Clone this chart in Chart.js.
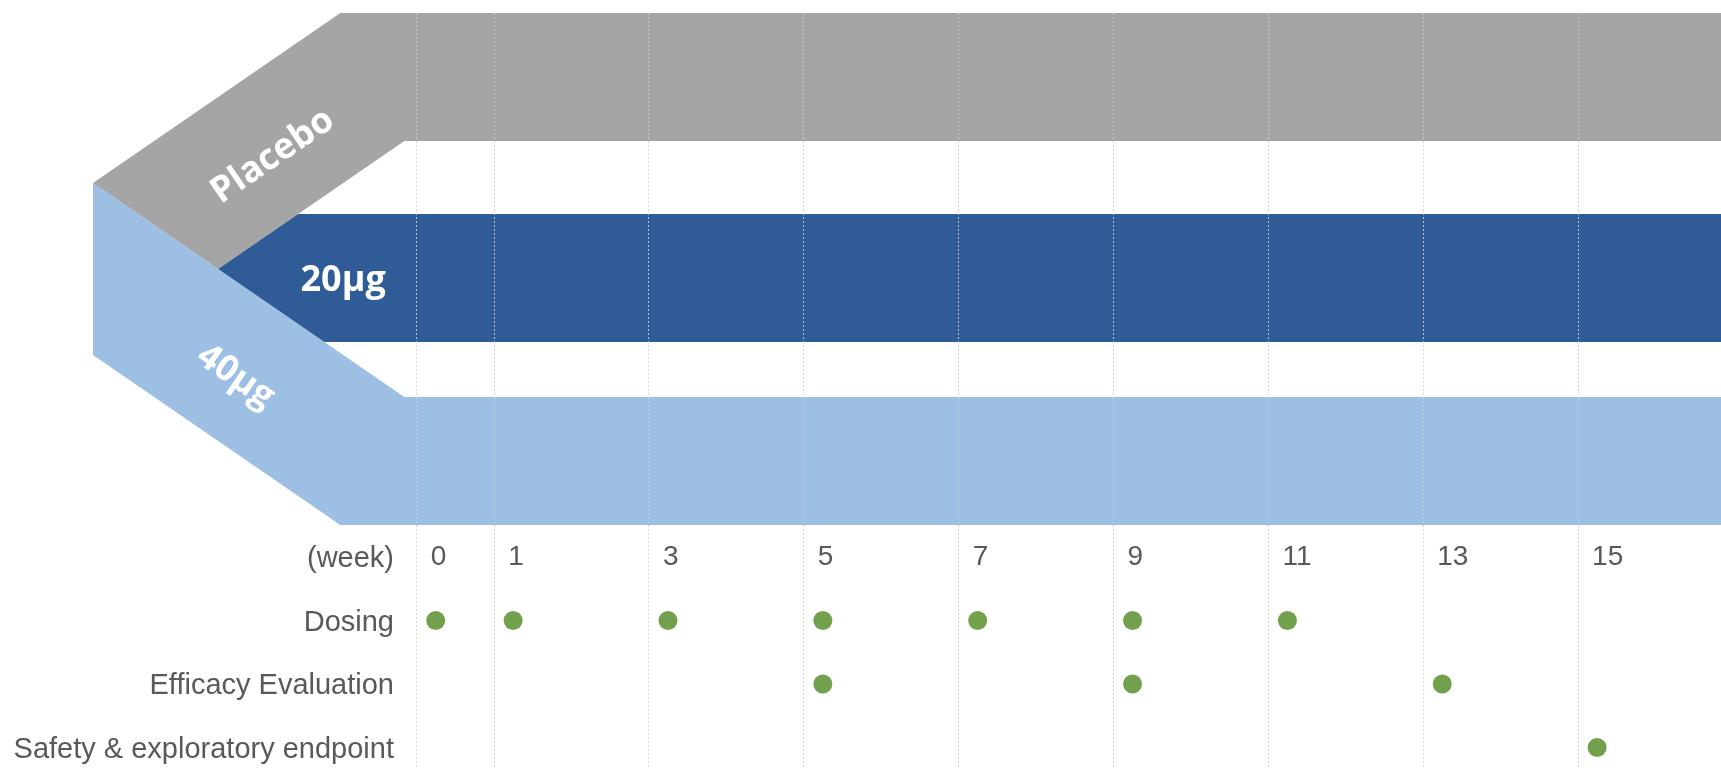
<!DOCTYPE html>
<html>
<head>
<meta charset="utf-8">
<script src="https://cdn.jsdelivr.net/npm/chart.js@4.4.1/dist/chart.umd.min.js"></script>
<style>
  html, body { margin: 0; padding: 0; background: #ffffff; overflow: hidden; width: 1721px; height: 773px; }
  #wrap { position: absolute; left: 0; top: -37px; width: 1721px; height: 810px; }
</style>
</head>
<body>
<div id="wrap"><canvas id="chart"></canvas></div>
<script>
// ---------- data ----------
const armLabels = ['Placebo', '20µg', '40µg'];
const armColors = ['#a5a5a5', '#2f5c97', '#9dbfe3'];
const armStartWeek = [0, 0, 0];
const armEndWeek = [16.6, 16.6, 16.6];

const weekTicks = [0, 1, 3, 5, 7, 9, 11, 13, 15];
const rowLabels = ['(week)', 'Dosing', 'Efficacy Evaluation', 'Safety & exploratory endpoint'];

const dosingWeeks = [0, 1, 3, 5, 7, 9, 11];
const efficacyWeeks = [5, 9, 13];
const safetyWeeks = [15];

// ---------- style ----------
const dotColor = '#72a04d';
const textColor = '#595959';
const labelFont = '"Liberation Sans", Arial, sans-serif';
const AXIS_W = 397;                       // width of the left label column
const armSlots = [228, 174, 192];         // vertical room given to each arm row
const rowsSlot = 190.5;                   // vertical room of the schedule rows
const BAND = 128;                         // thickness of an arm band

// chevron geometry (decoration)
const VX = 93;        // x of the left vertical edge
const K = 1.455;      // dx/dy of the slanted edges
const HALF = 86;      // half-height of the left vertical edge
const GRID_SHIFT = 19.5;

function bandBox(chart, i) {
  const el = chart.getDatasetMeta(i).data[0];
  const p = el.getProps(['x', 'y', 'base', 'height'], true);
  return { top: p.y - p.height / 2, bot: p.y + p.height / 2, left: Math.min(p.x, p.base), cy: p.y };
}

function geometry(chart) {
  const g = bandBox(chart, 0), d = bandBox(chart, 1), l = bandBox(chart, 2);
  const mid = (g.top + l.bot) / 2;
  const vy1 = mid - HALF, vy2 = mid + HALF;
  const px = VX + K * HALF;
  const L1 = y => VX + K * (vy1 - y);
  const L2 = y => px + K * (mid - y);
  const L3 = y => VX + K * (y - vy1);
  const L4 = y => VX + K * (y - vy2);
  return { g, d, l, mid, vy1, vy2, px, L1, L2, L3, L4 };
}

function poly(ctx, pts, color) {
  ctx.beginPath();
  ctx.moveTo(pts[0][0], pts[0][1]);
  for (let i = 1; i < pts.length; i++) ctx.lineTo(pts[i][0], pts[i][1]);
  ctx.closePath();
  ctx.fillStyle = color;
  ctx.fill();
}

const armShapes = {
  id: 'armShapes',
  beforeDatasetsDraw(chart) {
    const ctx = chart.ctx;
    const { g, d, l, mid, vy1, vy2, px, L1, L2, L3, L4 } = geometry(chart);
    ctx.save();
    poly(ctx, [[VX, vy1], [px, mid], [L3(l.top), l.top], [l.left + 1, l.top], [l.left + 1, l.bot], [L4(l.bot), l.bot], [VX, vy2]], armColors[2]);
    poly(ctx, [[L1(g.top), g.top], [g.left + 1, g.top], [g.left + 1, g.bot], [L2(g.bot), g.bot], [px, mid], [VX, vy1]], armColors[0]);
    poly(ctx, [[L2(d.top), d.top], [d.left + 1, d.top], [d.left + 1, d.bot], [L3(d.bot), d.bot], [px, mid]], armColors[1]);
    ctx.restore();
  },
  afterDatasetsDraw(chart) {
    const ctx = chart.ctx;
    const { g, d, mid, px, L1, L2, L3, L4 } = geometry(chart);
    const xs = chart.scales.x;

    // dashed column lines
    ctx.save();
    ctx.strokeStyle = 'rgba(205,205,205,0.85)';
    ctx.lineWidth = 1;
    ctx.setLineDash([2, 2]);
    xs.ticks.forEach(t => {
      const x = Math.round(xs.getPixelForValue(t.value) - GRID_SHIFT) + 0.5;
      ctx.beginPath();
      ctx.moveTo(x, g.top);
      ctx.lineTo(x, chart.height - 4);
      ctx.stroke();
    });
    ctx.restore();

    // arm names
    const th = Math.atan(1 / K);
    const s = Math.sin(th), c = Math.cos(th);
    ctx.save();
    ctx.fillStyle = '#ffffff';
    ctx.font = 'bold 36px "Open Sans", sans-serif';
    ctx.textAlign = 'center';
    ctx.textBaseline = 'middle';

    let y0 = mid - 120;
    let x0 = (L1(y0) + L2(y0)) / 2;
    ctx.save();
    ctx.translate(x0 + 9 * s, y0 + 9 * c);
    ctx.rotate(-th);
    ctx.fillText(armLabels[0], 0, 0);
    ctx.restore();

    ctx.fillText(armLabels[1], px + 125, d.cy + 3);

    y0 = mid + 101;
    x0 = (L3(y0) + L4(y0)) / 2;
    ctx.save();
    ctx.translate(x0 - 8 * s, y0 + 8 * c);
    ctx.rotate(th);
    ctx.fillText(armLabels[2], 0, 0);
    ctx.restore();

    ctx.restore();
  }
};

const zeroPad = s => { s.paddingLeft = 0; s.paddingRight = 0; s.paddingTop = 0; s.paddingBottom = 0; };
const fitLeft = s => { zeroPad(s); s.width = AXIS_W; };

function dotSet(label, weeks) {
  return {
    type: 'scatter',
    label: label,
    xAxisID: 'x',
    yAxisID: 'yRows',
    data: weeks.map(w => ({ x: w, y: label })),
    pointRadius: 9.5,
    pointHoverRadius: 9.5,
    pointBackgroundColor: dotColor,
    pointBorderWidth: 0,
    showLine: false
  };
}

function build() {
  const scales = {
    x: {
      type: 'linear',
      axis: 'x',
      min: -0.5,
      max: Math.max(...armEndWeek),
      offset: false,
      bounds: 'data',
      position: { yRows: 0 },
      grid: { display: false, drawTicks: false, offset: false },
      border: { display: false },
      afterBuildTicks: s => { s.ticks = weekTicks.map(v => ({ value: v })); },
      afterFit: zeroPad,
      ticks: {
        autoSkip: false,
        maxRotation: 0,
        minRotation: 0,
        align: 'start',
        labelOffset: -5,
        padding: -16.8,
        color: textColor,
        font: { family: labelFont, size: 28 },
        callback: v => String(v)
      }
    },
    yRows: {
      type: 'category',
      axis: 'y',
      labels: rowLabels,
      offset: false,
      position: 'left',
      stack: 'left',
      stackWeight: rowsSlot,
      weight: 1,
      grid: { display: false, drawTicks: false },
      border: { display: false },
      ticks: { autoSkip: false, padding: 3, labelOffset: 2, color: textColor, font: { family: labelFont, size: 29 } },
      afterFit: fitLeft
    }
  };
  armLabels.forEach((a, i) => {
    scales['yArm' + i] = {
      type: 'category',
      axis: 'y',
      labels: [a],
      offset: true,
      position: 'left',
      stack: 'left',
      stackWeight: armSlots[i],
      weight: 10 - i,
      ticks: { display: false },
      grid: { display: false, drawTicks: false },
      border: { display: false },
      afterFit: fitLeft
    };
  });

  const armSets = armLabels.map((a, i) => ({
    type: 'bar',
    label: a,
    indexAxis: 'y',
    xAxisID: 'x',
    yAxisID: 'yArm' + i,
    data: [{ y: a, x: [armStartWeek[i], armEndWeek[i]] }],
    backgroundColor: armColors[i],
    borderWidth: 0,
    borderSkipped: false,
    inflateAmount: 0,
    barThickness: BAND
  }));

  new Chart(document.getElementById('chart'), {
    type: 'bar',
    data: {
      datasets: armSets.concat([
        dotSet(rowLabels[1], dosingWeeks),
        dotSet(rowLabels[2], efficacyWeeks),
        dotSet(rowLabels[3], safetyWeeks)
      ])
    },
    options: {
      responsive: true,
      maintainAspectRatio: false,
      animation: false,
      events: [],
      layout: { autoPadding: false, padding: { left: 0, right: 0, top: 0, bottom: 25.5 } },
      plugins: { legend: { display: false }, tooltip: { enabled: false } },
      scales: scales
    },
    plugins: [armShapes]
  });
}

const fontLoads = [
  document.fonts.load('bold 36px "Open Sans"'),
  document.fonts.load('28px "Liberation Sans"')
];
Promise.race([Promise.all(fontLoads), new Promise(r => setTimeout(r, 800))]).then(build, build);
</script>
</body>
</html>
